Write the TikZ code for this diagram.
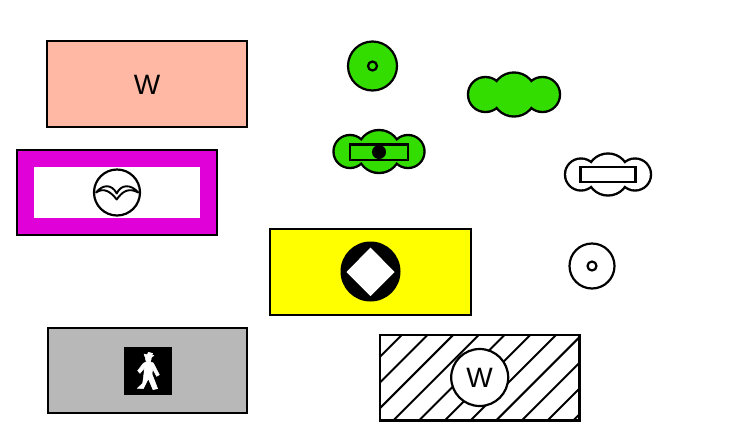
\documentclass[tikz,border=0pt]{standalone}
\usepackage{fontspec}
\setmainfont{Liberation Sans}
\definecolor{salmon}{HTML}{FFB8A3}
\definecolor{magen}{HTML}{E000D8}
\definecolor{grayfill}{HTML}{B8B8B8}
\definecolor{greenfill}{HTML}{33DD00}
\definecolor{yellowfill}{HTML}{FFFF00}
\tikzset{
  outl/.style={draw=black,line width=2.2pt},
  lbl/.style={inner sep=0pt,font=\fontsize{28}{30}\selectfont},
  hatchline/.style={draw=black,line width=2pt},
}
% cloud: centre x, centre y, side offset, side radius, middle radius, fill
\newcommand{\mycloud}[6]{%
  \fill[black] (#1-#3,#2) circle[radius=#4+1.2] (#1+#3,#2) circle[radius=#4+1.2] (#1,#2) circle[radius=#5+1.2];
  \fill[#6] (#1-#3,#2) circle[radius=#4-1.2] (#1+#3,#2) circle[radius=#4-1.2] (#1,#2) circle[radius=#5-1.2];
}
\begin{document}
\begin{tikzpicture}[x=1pt,y=-1pt]
\useasboundingbox (0,0) rectangle (741,445);
\fill[white] (0,0) rectangle (741,445);
% W box
\draw[outl,fill=salmon] (47,41) rectangle (247,127);
\node[lbl] (w1) at (147,84.5) {W};
% magenta box
\draw[outl,fill=magen] (17,150) rectangle (217,235);
\fill[white] (34,167) rectangle (200,218);
\draw[outl,fill=white] (117,192.5) circle[radius=23];
\draw[black,line width=1.9pt,line join=round,fill=white]
  (96,192.5) .. controls (103,184) and (112,184) .. (116.7,193.5)
  .. controls (121,184) and (131,184) .. (138.3,192.5)
  .. controls (128,187) and (122,192) .. (116.7,199.5)
  .. controls (111,192) and (104,187) .. (96,192.5) -- cycle;
% gray box
\draw[outl,fill=grayfill] (48,328) rectangle (247,413);
\fill[black] (124,347) rectangle (171.5,394.5);
\begin{scope}[shift={(115,340)},x=0.3333pt,y=-0.3333pt]
\filldraw[white,line width=0.5pt,line join=round]
  (87,42) -- (97,44) -- (100,37) -- (113,40) -- (110,47) -- (117,46) -- (109,53)
  .. controls (109,60) and (107,63) .. (105,65)
  -- (115,69) -- (133,104) -- (125,109) -- (113,87) -- (111,102) -- (128,146) -- (114,149) -- (100,116)
  -- (85,146) -- (67,145) -- (83,130) -- (87,100) -- (88,84) -- (75,100) -- (68,92) -- (85,70) -- (95,65)
  .. controls (92,62) and (91,58) .. (91,53) -- cycle;
\end{scope}
% green circle
\draw[outl,fill=greenfill] (372.5,66) circle[radius=24.5];
\draw[outl] (372.5,66) circle[radius=4.5];
% green cloud, plain
\mycloud{514}{94.5}{28.5}{17.5}{22}{greenfill}
% green cloud with bar and dot
\mycloud{379}{151.5}{29}{16.5}{21.5}{greenfill}
\draw[outl] (350,144.5) rectangle (408,160);
\fill[black] (379,152) circle[radius=7];
% white cloud with bar
\mycloud{608}{174.5}{27}{16}{21}{white}
\draw[outl] (580.5,167) rectangle (635.5,182);
% white circle
\draw[outl] (592,266) circle[radius=22.5];
\draw[outl] (592,266) circle[radius=4.5];
% yellow box
\draw[outl,fill=yellowfill] (270,229) rectangle (471,315);
\fill[black] (370.5,271.5) circle[radius=30];
\fill[white] (370.5,247.5) -- (394.5,272) -- (370.5,296) -- (346.5,272) -- cycle;
% hatched box
\begin{scope}
\clip (380,335) rectangle (579.5,420.5);
\foreach \k in {0,...,10}{
  \pgfmathsetmacro{\cc}{736.7+25.7*\k}
  \draw[hatchline] (\cc-300,300) -- (\cc-450,450);
}
\end{scope}
\draw[outl] (380,335) rectangle (579.5,420.5);
\draw[outl,fill=white] (479.7,377.5) circle[radius=28.5];
\node[lbl] (w2) at (479.7,378) {W};
\end{tikzpicture}
\end{document}
